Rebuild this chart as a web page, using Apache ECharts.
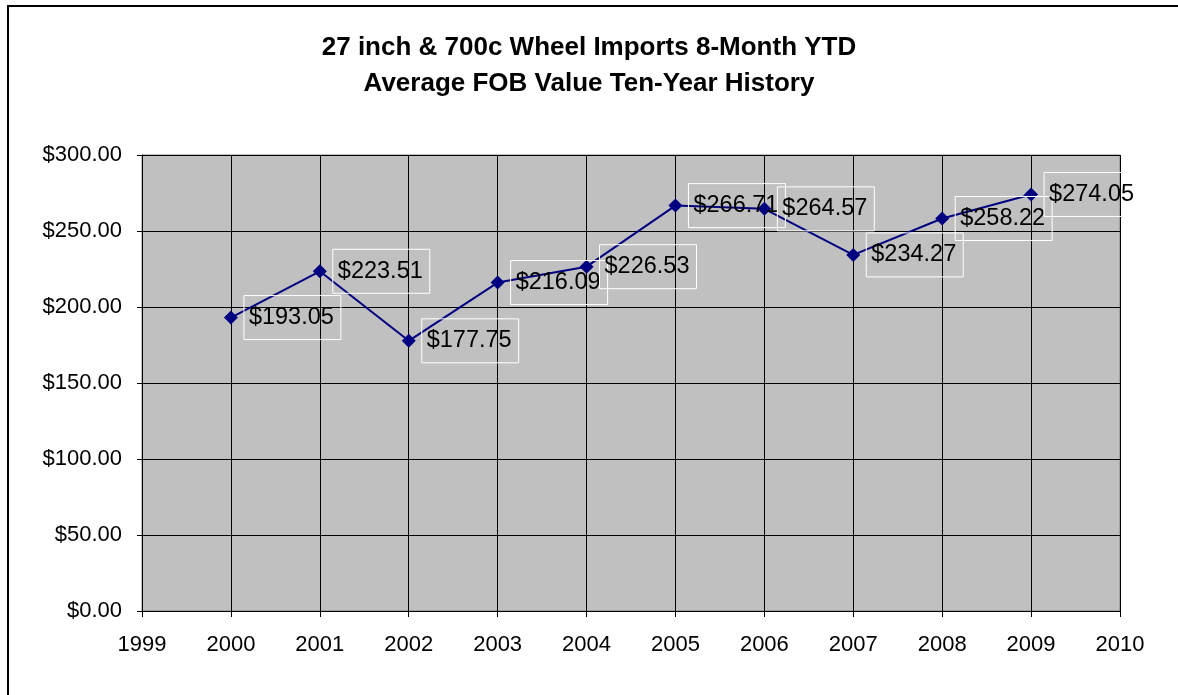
<!DOCTYPE html>
<html>
<head>
<meta charset="utf-8">
<script src="https://cdn.jsdelivr.net/npm/echarts@6/dist/echarts.min.js"></script>
<style>
  html, body { margin: 0; padding: 0; background: #fff; overflow: hidden; }
  #frame { position: absolute; left: 7px; top: 5px; width: 1200px; height: 720px;
           border-left: 2px solid #000; border-top: 2px solid #000; }
  #chart { position: absolute; left: 0; top: 0; width: 1178px; height: 695px; }
</style>
</head>
<body>
<div id="frame"></div>
<div id="chart"></div>
<script>
const years = [2000, 2001, 2002, 2003, 2004, 2005, 2006, 2007, 2008, 2009];
const fobValues = [193.05, 223.51, 177.75, 216.09, 226.53, 266.71, 264.57, 234.27, 258.22, 274.05];
const titleLines = ['27 inch & 700c Wheel Imports 8-Month YTD', 'Average FOB Value Ten-Year History'];

const chart = echarts.init(document.getElementById('chart'));
const points = years.map((y, i) => [y, fobValues[i]]);
const money = v => '$' + v.toFixed(2);

const option = {
    animation: false,
    textStyle: { fontFamily: 'Liberation Sans, Arial, sans-serif' },
    title: {
        text: titleLines.join('\n'),
        left: 'center',
        top: 25,
        textStyle: {
            fontSize: 26,
            fontWeight: 'bold',
            color: '#000',
            lineHeight: 36,
            fontFamily: 'Liberation Sans, Arial, sans-serif'
        }
    },
    grid: {
        left: 142,
        right: 58,
        top: 155,
        bottom: 84,
        show: true,
        backgroundColor: '#c0c0c0',
        borderColor: '#808080',
        borderWidth: 1
    },
    xAxis: {
        type: 'value',
        min: 1999,
        max: 2010,
        interval: 1,
        axisLine: { show: true, onZero: false, lineStyle: { color: '#000', width: 1 } },
        axisTick: { show: true, length: 6, lineStyle: { color: '#000' } },
        axisLabel: { color: '#000', fontSize: 22, margin: 23, formatter: v => String(v) },
        splitLine: { show: true, lineStyle: { color: '#000', width: 1 } }
    },
    yAxis: {
        type: 'value',
        min: 0,
        max: 300,
        interval: 50,
        axisLine: { show: true, lineStyle: { color: '#000', width: 1 } },
        axisTick: { show: true, length: 5, lineStyle: { color: '#000' } },
        axisLabel: { color: '#000', fontSize: 22, margin: 20, formatter: v => money(v) },
        splitLine: { show: true, lineStyle: { color: '#000', width: 1 } }
    },
    series: [{
        type: 'line',
        data: points,
        symbol: 'diamond',
        symbolSize: 14,
        itemStyle: { color: '#000080' },
        lineStyle: { color: '#000080', width: 2 },
        label: {
            show: true,
            position: 'right',
            distance: 6,
            formatter: p => money(p.value[1]),
            color: '#000',
            fontSize: 23.5,
            borderColor: '#ffffff',
            borderWidth: 1,
            padding: [10, 7, 10, 5]
        }
    }]
};
chart.setOption(option);
</script>
</body>
</html>
